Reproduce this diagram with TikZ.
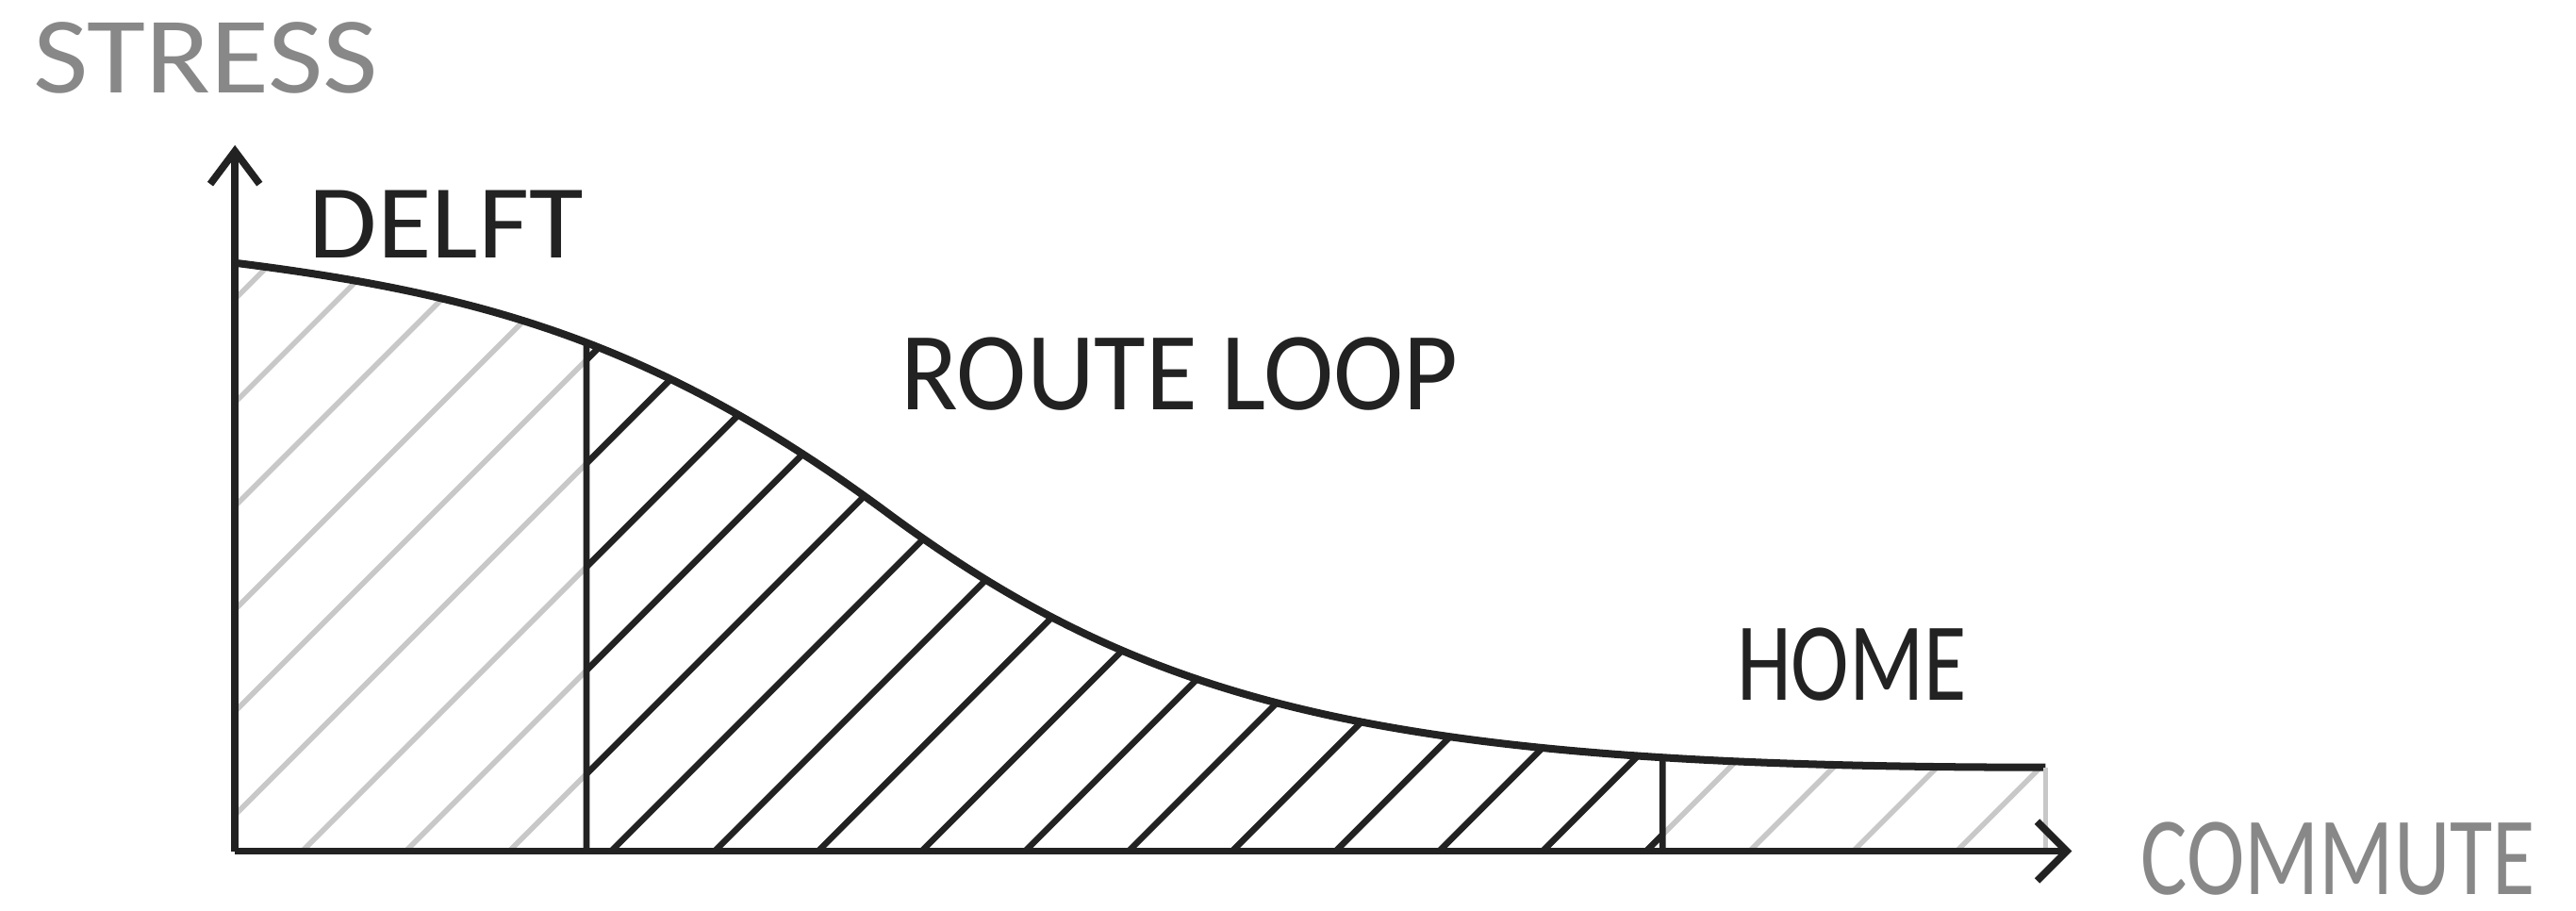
\documentclass[tikz,border=0pt]{standalone}
\usepackage{fontspec}
\setmainfont{Carlito}
\usepackage{graphicx}
\usetikzlibrary{intersections}
\definecolor{ink}{HTML}{222222}
\definecolor{light}{HTML}{C8C8C8}
\definecolor{graytext}{HTML}{888888}
\begin{document}
\begin{tikzpicture}[x=1pt,y=-1pt,
  axisline/.style={line width=4.4pt, draw=ink, line cap=butt, line join=miter},
  curveline/.style={line width=4.6pt, draw=ink, line cap=butt},
  divider/.style={line width=3.8pt, draw=ink},
  edgeline/.style={line width=2.8pt, draw=light},
  hatchdark/.style={line width=3.8pt, draw=ink},
  hatchlight/.style={line width=3.2pt, draw=light},
  txt/.style={inner sep=0pt, anchor=south west}]

\useasboundingbox (0,0) rectangle (1568,554);
\fill[white] (0,0) rectangle (1568,554);

\coordinate (O) at (143,518);
\coordinate (ytip) at (143,92);
\coordinate (xtip) at (1258,518);
\coordinate (cstart) at (143,160);
\coordinate (cmid) at (540,312);
\coordinate (cend) at (1245,467);
\coordinate (cendbase) at (1245,518);
\coordinate (d1base) at (357,518);
\coordinate (d2base) at (1012,518);

% hatching, clipped to the area below the curve
\begin{scope}
  \clip (O) -- (cstart) .. controls (293,178.75) and (400,208.4) .. (cmid) .. controls (700,430.4) and (845,467) .. (cend) -- (cendbase) -- cycle;
  \begin{scope}
    \clip (143,0) rectangle (357,518);
    \foreach \x in {-508,-445,-382,-319,-256,-193,-130,-67,-4,58,121,184,247,310}
      \draw[hatchlight] (\x,518) -- ++(520,-520);
  \end{scope}
  \begin{scope}
    \clip (357,0) rectangle (1012,518);
    \foreach \x in {-4,58,121,184,247,310,372,435,498,561,624,687,750,813,876,939,1002}
      \draw[hatchdark] (\x,518) -- ++(520,-520);
  \end{scope}
  \begin{scope}
    \clip (1012,0) rectangle (1245,518);
    \foreach \x in {876,939,1002,1065,1128,1191}
      \draw[hatchlight] (\x,518) -- ++(520,-520);
  \end{scope}
\end{scope}

% the curve
\draw[curveline, name path=curve] (cstart) .. controls (293,178.75) and (400,208.4) .. (cmid) .. controls (700,430.4) and (845,467) .. (cend);

% dividers
\path[name path=v1] (357,100) -- (357,520);
\path[name path=v2] (1012,100) -- (1012,520);
\path[name intersections={of=curve and v1, by=d1top}];
\path[name intersections={of=curve and v2, by=d2top}];
\draw[divider] (d1top) -- (d1base);
\draw[divider] (d2top) -- (d2base);
\draw[edgeline] (cend) -- (cendbase);

% axes
\draw[axisline] (O) -- (ytip);
\draw[axisline] (ytip) ++(-15,20) -- (ytip) -- ++(15,20);
\draw[axisline] (O) -- (xtip);
\draw[axisline] (xtip) ++(-18,-18) -- (xtip) -- ++(-18,18);

% labels
\node[txt, text=graytext] (stress) at (20,57) {\resizebox{210pt}{43pt}{STRESS}};
\node[txt, text=ink] (delft) at (188,157) {\resizebox{167pt}{41pt}{DELFT}};
\node[txt, text=ink] (route) at (548,250) {\resizebox{339pt}{44pt}{ROUTE LOOP}};
\node[txt, text=ink] (home) at (1057,427) {\resizebox{140pt}{44pt}{HOME}};
\node[txt, text=graytext] (commute) at (1303,545) {\resizebox{240pt}{44pt}{COMMUTE}};
\end{tikzpicture}
\end{document}
